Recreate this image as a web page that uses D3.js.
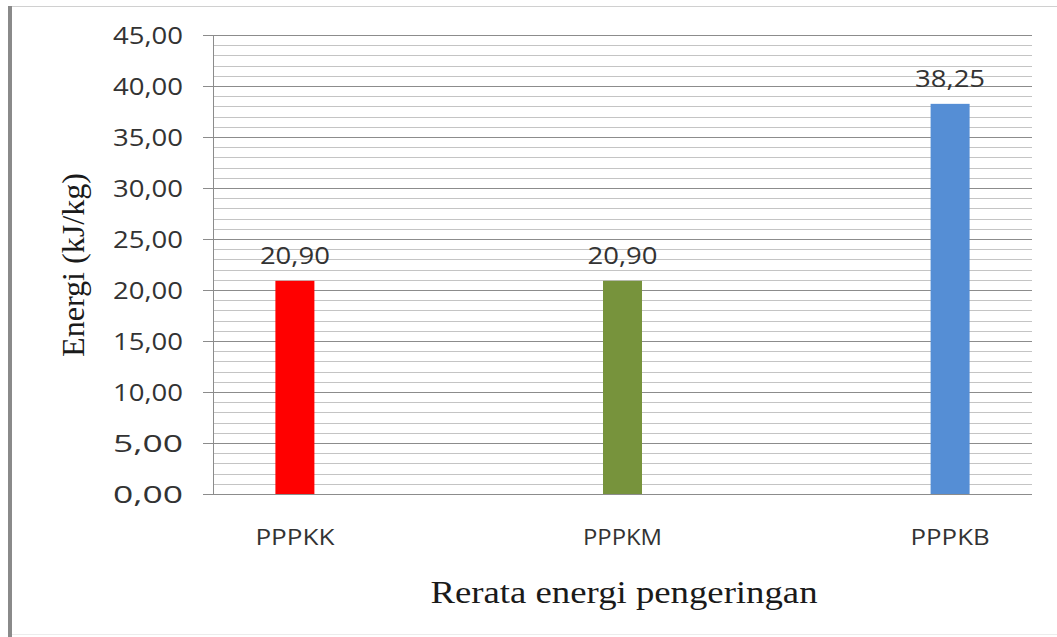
<!DOCTYPE html>
<html>
<head>
<meta charset="utf-8">
<script src="https://cdn.jsdelivr.net/npm/d3@7.9.0/dist/d3.min.js"></script>
<style>
  body { margin: 0; background: #fff; }
  svg { display: block; }
</style>
</head>
<body>
<svg id="chart" width="1057" height="637"></svg>
<script>
// data
const categories = ['PPPKK', 'PPPKM', 'PPPKB'];
const values = [20.90, 20.90, 38.25];
const valueLabels = ['20,90', '20,90', '38,25'];
const barColors = ['#ff0000', '#77933c', '#558ed5'];
const yTicks = [0, 5, 10, 15, 20, 25, 30, 35, 40, 45];

const svg = d3.select('#chart');
const plotLeft = 213, plotRight = 1032, plotTop = 35, plotBottom = 494;

// frame of the picture
svg.append('line').attr('x1', 12).attr('x2', 1057).attr('y1', 6.5).attr('y2', 6.5)
  .attr('stroke', '#d0d0d0').attr('stroke-width', 1);
svg.append('line').attr('x1', 12).attr('x2', 1057).attr('y1', 634.5).attr('y2', 634.5)
  .attr('stroke', '#ececec').attr('stroke-width', 1);
svg.append('rect').attr('x', 8).attr('y', 6).attr('width', 4).attr('height', 631)
  .attr('fill', '#8a8a8a');

const x = d3.scalePoint().domain(categories).range([plotLeft, plotRight]).padding(0.25);
const y = d3.scaleLinear().domain([0, 45]).range([plotBottom, plotTop]);

// minor gridlines every 1 unit
const minor = d3.range(1, 46).filter(d => d % 5 !== 0);
svg.append('g').selectAll('line').data(minor).join('line')
  .attr('x1', plotLeft).attr('x2', plotRight)
  .attr('y1', d => Math.round(y(d)) + 0.5).attr('y2', d => Math.round(y(d)) + 0.5)
  .attr('stroke', '#c4c4c4').attr('stroke-width', 1);

// major gridlines + tick labels
const yAxis = d3.axisLeft(y).tickValues(yTicks).tickSize(10)
  .tickFormat(d => d3.format('.2f')(d).replace('.', ','));
const gy = svg.append('g').attr('transform', `translate(${plotLeft},0)`).call(yAxis);
gy.select('.domain').attr('stroke', '#8c8c8c');
gy.selectAll('.tick line').attr('stroke', '#8c8c8c');
gy.selectAll('.tick').append('line')
  .attr('x1', 0).attr('x2', plotRight - plotLeft)
  .attr('stroke', '#8c8c8c');
gy.selectAll('.tick text')
  .attr('x', -30).attr('dy', '0.36em')
  .attr('fill', '#333')
  .attr('font-family', '"Open Sans", sans-serif').attr('font-size', 23)
  .attr('textLength', 70).attr('lengthAdjust', 'spacingAndGlyphs');

// bars
const barW = 39;
svg.append('g').selectAll('rect').data(values).join('rect')
  .attr('x', (d, i) => x(categories[i]) - barW / 2)
  .attr('y', d => y(d))
  .attr('width', barW)
  .attr('height', d => plotBottom - y(d))
  .attr('fill', (d, i) => barColors[i]);

// value labels
svg.append('g').selectAll('text').data(values).join('text')
  .attr('x', (d, i) => x(categories[i]))
  .attr('y', d => y(d) - 17)
  .attr('text-anchor', 'middle')
  .attr('fill', '#333')
  .attr('font-family', '"Open Sans", sans-serif').attr('font-size', 23)
  .attr('textLength', 70).attr('lengthAdjust', 'spacingAndGlyphs')
  .text((d, i) => valueLabels[i]);

// category labels
svg.append('g').selectAll('text').data(categories).join('text')
  .attr('x', d => x(d))
  .attr('y', 545)
  .attr('text-anchor', 'middle')
  .attr('fill', '#333')
  .attr('font-family', '"Open Sans", sans-serif').attr('font-size', 22)
  .attr('textLength', 79).attr('lengthAdjust', 'spacingAndGlyphs')
  .text(d => d);

// axis titles
svg.append('text')
  .attr('x', 624).attr('y', 603)
  .attr('text-anchor', 'middle')
  .attr('fill', '#1a1a1a')
  .attr('font-family', '"Liberation Serif", serif').attr('font-size', 31)
  .attr('textLength', 387).attr('lengthAdjust', 'spacingAndGlyphs')
  .text('Rerata energi pengeringan');

svg.append('text')
  .attr('transform', 'translate(84,265) rotate(-90)')
  .attr('text-anchor', 'middle')
  .attr('fill', '#1a1a1a')
  .attr('font-family', '"Liberation Serif", serif').attr('font-size', 31)
  .attr('textLength', 184).attr('lengthAdjust', 'spacingAndGlyphs')
  .text('Energi (kJ/kg)');
</script>
</body>
</html>
